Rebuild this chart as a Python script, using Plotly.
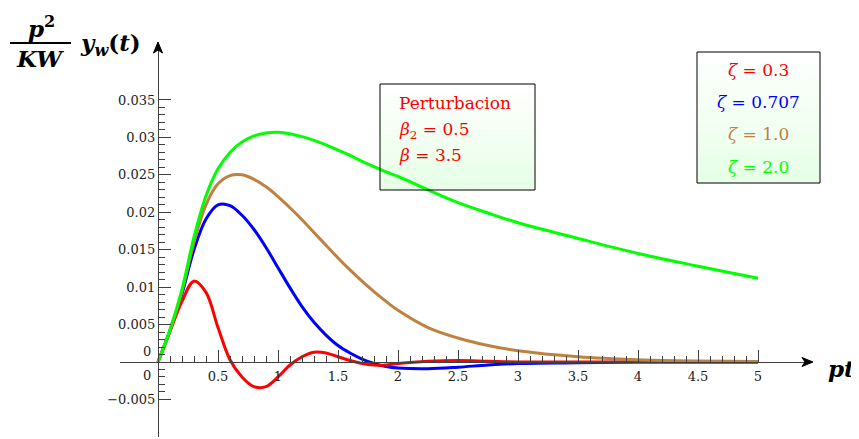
"""
Disturbance response y_w(t) of a second order loop for several damping ratios
"""
import plotly.graph_objects as go

# time axis (pt) and responses
t = [0, 0.1, 0.2, 0.3, 0.4, 0.5, 0.6, 0.7, 0.8, 0.9,
     1.0, 1.1, 1.2, 1.3, 1.4, 1.5, 1.6, 1.7, 1.8, 1.9,
     2.0, 2.25, 2.5, 2.75, 3.0, 3.5, 4.0, 4.5, 5.0]

y_zeta_03 = [0, 0.0041, 0.0081, 0.0108, 0.0093, 0.0046, 0.0003, -0.0020, -0.0033, -0.0033,
             -0.0020, -0.0004, 0.0007, 0.0013, 0.0012, 0.0007, 0.0002, -0.0002, -0.0004, -0.0004,
             -0.0002, 0.0001, 0.0002, 0.0001, 0.0, 0.0, 0.0, 0.0, 0.0]

y_zeta_0707 = [0, 0.0042, 0.0091, 0.0150, 0.0191, 0.0210, 0.0209, 0.0196, 0.0177, 0.0153,
               0.0126, 0.0099, 0.0074, 0.0053, 0.0036, 0.0022, 0.0012, 0.0004, -0.0002, -0.0006,
               -0.0008, -0.0009, -0.0007, -0.0004, -0.0002, -0.0001, 0.0, 0.0, 0.0]

y_zeta_10 = [0, 0.0042, 0.0094, 0.0160, 0.0210, 0.0238, 0.0249, 0.0250, 0.0244, 0.0234,
             0.0221, 0.0206, 0.0190, 0.0173, 0.0156, 0.0139, 0.0123, 0.0108, 0.0094, 0.0081,
             0.0069, 0.0046, 0.0032, 0.0022, 0.0015, 0.0007, 0.0003, 0.00013, 0.00006]

y_zeta_20 = [0, 0.0043, 0.0097, 0.0167, 0.0222, 0.0258, 0.0280, 0.0294, 0.0302, 0.0306,
             0.0307, 0.0305, 0.0301, 0.0296, 0.0290, 0.0283, 0.0276, 0.0268, 0.0261, 0.0254,
             0.0248, 0.0230, 0.0213, 0.0199, 0.0186, 0.0165, 0.0145, 0.0128, 0.0112]

zeta_labels = ["0.3", "0.707", "1.0", "2.0"]
zeta_colors = ["#ff0000", "#0000ff", "#bf8040", "#00ff00"]

x_tickvals = [0.5, 1, 1.5, 2, 2.5, 3, 3.5, 4, 4.5, 5]
x_ticktext = ["0.5", "1", "1.5", "2", "2.5", "3", "3.5", "4", "4.5", "5"]
y_tickvals = [-0.005, 0.005, 0.01, 0.015, 0.02, 0.025, 0.03, 0.035]
y_ticktext = ["\u22120.005", "0.005", "0.01", "0.015", "0.02", "0.025", "0.03", "0.035"]

# the page body keeps its 8px margin, so the figure is that much smaller
OFF = 8
W, H = 859 - OFF, 439 - OFF
SERIF = "DejaVu Serif"
AXIS_COLOR = "#404040"
TEXT_COLOR = "#222"


def fx(px):
    """window pixel column -> paper x"""
    return (px - OFF) / W


def fy(py):
    """window pixel row -> paper y"""
    return 1 - (py - OFF) / H


fig = go.Figure()

# drawing order: blue, red, brown, green on top
series = [
    (y_zeta_0707, zeta_colors[1], zeta_labels[1]),
    (y_zeta_03, zeta_colors[0], zeta_labels[0]),
    (y_zeta_10, zeta_colors[2], zeta_labels[2]),
    (y_zeta_20, zeta_colors[3], zeta_labels[3]),
]
for ys, col, lab in series:
    fig.add_trace(go.Scatter(
        x=t, y=ys, mode="lines", name=f"\u03b6 = {lab}",
        line=dict(color=col, width=3, shape="spline", smoothing=1.0),
        showlegend=False, hoverinfo="x+y",
    ))

minor_x = [round(i * 0.1, 1) for i in range(1, 51) if i % 5 != 0]
minor_y = [round(i * 0.001, 3) for i in range(-5, 36) if i % 5 != 0]

fig.update_layout(
    width=W, height=H, autosize=False,
    margin=dict(l=0, r=0, t=0, b=0),
    paper_bgcolor="white", plot_bgcolor="white",
    font=dict(family=SERIF, size=13, color=TEXT_COLOR),
    xaxis=dict(
        domain=[fx(120), fx(806)], range=[(120 - 158) / 120, (806 - 158) / 120],
        anchor="free", position=fy(362),
        showgrid=False, zeroline=False, showline=True, linecolor=AXIS_COLOR, linewidth=1.2,
        tickmode="array", tickvals=x_tickvals, ticktext=x_ticktext,
        ticks="inside", ticklen=12, tickwidth=1.2, tickcolor=AXIS_COLOR,
        ticklabelstandoff=2,
        minor=dict(tickvals=minor_x, ticks="inside", ticklen=6, tickwidth=1, tickcolor=AXIS_COLOR),
        tickfont=dict(family=SERIF, size=13, color=TEXT_COLOR),
    ),
    yaxis=dict(
        domain=[fy(437), fy(49)], range=[(362 - 437) / 7486, (362 - 49) / 7486],
        anchor="free", position=fx(158),
        showgrid=False, zeroline=False, showline=True, linecolor=AXIS_COLOR, linewidth=1.2,
        tickmode="array", tickvals=y_tickvals, ticktext=y_ticktext,
        ticks="inside", ticklen=12, tickwidth=1.2, tickcolor=AXIS_COLOR,
        minor=dict(tickvals=minor_y, ticks="inside", ticklen=6, tickwidth=1, tickcolor=AXIS_COLOR),
        tickfont=dict(family=SERIF, size=13, color=TEXT_COLOR),
    ),
)

shapes = []
# boxes with a white -> green!10 vertical gradient
for (x0, y0, x1, y1) in [(380, 84, 535, 190), (697, 52, 820, 183)]:
    n = 24
    for i in range(n):
        f = i / (n - 1)
        g = round(255 - f * (255 - 230))
        shapes.append(dict(type="rect", xref="paper", yref="paper", layer="below",
                           x0=fx(x0), x1=fx(x1),
                           y0=fy(y0 + (y1 - y0) * (i + 1) / n), y1=fy(y0 + (y1 - y0) * i / n),
                           line=dict(width=0), fillcolor=f"rgb({g},255,{g})"))
    shapes.append(dict(type="rect", xref="paper", yref="paper",
                       x0=fx(x0), x1=fx(x1), y0=fy(y1), y1=fy(y0),
                       line=dict(color="black", width=1), fillcolor="rgba(0,0,0,0)"))
# fraction bar of the y label
shapes.append(dict(type="line", xref="paper", yref="paper",
                   x0=fx(10), x1=fx(71), y0=fy(43), y1=fy(43),
                   line=dict(color="black", width=2)))


def arrow_head(pts):
    """closed triangle path in paper units, pts given in window pixels"""
    d = "M " + " L ".join(f"{fx(a):.5f},{fy(b):.5f}" for a, b in pts) + " Z"
    return dict(type="path", xref="paper", yref="paper", path=d,
                fillcolor="black", line=dict(color="black", width=1))


shapes.append(arrow_head([(813, 362), (802, 357.5), (805, 362), (802, 366.5)]))
shapes.append(arrow_head([(158, 42), (153.5, 53), (158, 50), (162.5, 53)]))
fig.update_layout(shapes=shapes)


def label(px, py, text, font, xanchor="center"):
    return dict(x=fx(px), y=fy(py), xref="paper", yref="paper", text=text,
                showarrow=False, xanchor=xanchor, yanchor="middle", font=font)


ann = []
# the two zero labels at the origin
tick_font = dict(family=SERIF, size=13, color=TEXT_COLOR)
ann.append(label(153, 351, "0", tick_font, "right"))
ann.append(label(153, 375, "0", tick_font, "right"))
# axis titles
big = dict(family=SERIF, size=23, color="black")
ann.append(label(41, 27, "<b><i>p</i><sup>2</sup></b>", big))
ann.append(label(40, 58, "<b><i>KW</i></b>", big))
ann.append(label(78, 44, "<b><i>y<sub>w</sub></i>(<i>t</i>)</b>", big, "left"))
ann.append(label(841, 368, "<b><i>pt</i></b>", big))
# parameter box
red_font = dict(family=SERIF, size=17, color="#ff0000")
for py, txt in [(103, "Perturbacion"), (130, "<i>\u03b2</i><sub>2</sub> = 0.5"),
                (155, "<i>\u03b2</i> = 3.5")]:
    ann.append(label(397, py, txt, red_font, "left"))
# damping legend
for py, lab, col in zip([70, 102, 134, 167], zeta_labels, zeta_colors):
    ann.append(label(758, py, f"<i>\u03b6</i> = {lab}", dict(family=SERIF, size=17, color=col)))
fig.update_layout(annotations=ann)

fig.write_html("out.html")
